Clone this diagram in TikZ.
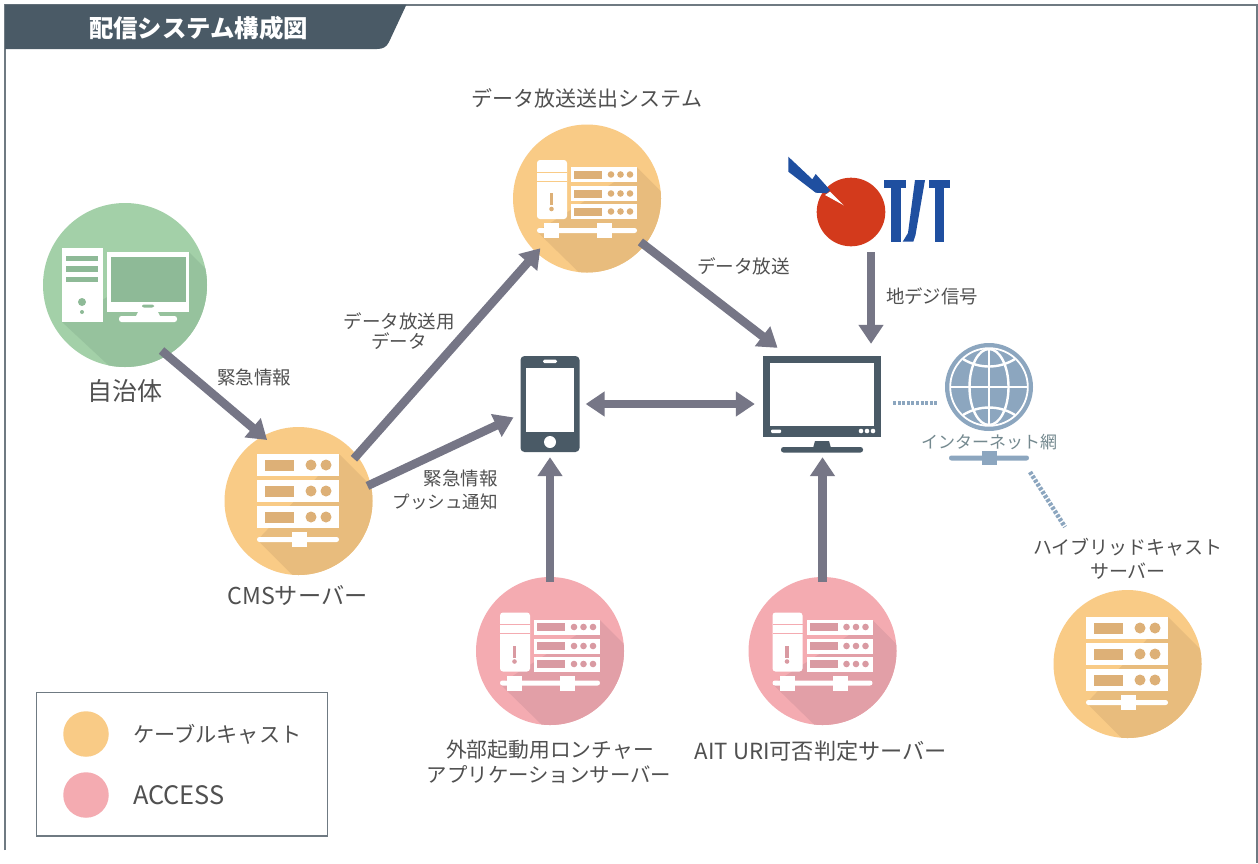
\documentclass[tikz,border=0pt]{standalone}
\usepackage{fontspec}
\setmainfont{Noto Sans CJK JP}
\usetikzlibrary{arrows.meta}
\definecolor{ink}{HTML}{505050}
\definecolor{slate}{HTML}{4A5A66}
\definecolor{framec}{HTML}{6F7A82}
\definecolor{arrowc}{HTML}{767686}
\definecolor{globec}{HTML}{8CA6BF}
\definecolor{globet}{HTML}{74898F}
\definecolor{orangeb}{HTML}{F9CB86}
\definecolor{oranges}{HTML}{E8BC7D}
\definecolor{orangei}{HTML}{DDB077}
\definecolor{pinkb}{HTML}{F4ABB1}
\definecolor{pinks}{HTML}{E29FA7}
\definecolor{pinki}{HTML}{D99AA2}
\definecolor{greenb}{HTML}{A3D0A8}
\definecolor{greens}{HTML}{96C29D}
\definecolor{greeni}{HTML}{8EBA97}
\definecolor{ttblue}{HTML}{1F4FA0}
\definecolor{ttred}{HTML}{D33A1C}
\newcommand{\fs}[1]{\fontsize{#1}{#1}\selectfont}
\tikzset{
  flow/.style={draw=arrowc,line width=8.5pt,-{Triangle[width=24pt,length=19pt]}},
  flowboth/.style={draw=arrowc,line width=8.5pt,{Triangle[width=24pt,length=19pt]}-{Triangle[width=24pt,length=19pt]}},
  netlink/.style={draw=globec,line width=4.5pt,dash pattern=on 3pt off 1.6pt},
  disc/.style={circle,inner sep=0pt,minimum size=148pt},
  lab/.style={text=ink,inner sep=0pt,align=center},
  anchorpt/.style={inner sep=0pt,minimum size=0pt},
}
% rack-only icon: #1 centre, #2 base, #3 shadow, #4 inner
\newcommand{\rackicon}[4]{
\begin{scope}[shift={(#1)}]
  \clip (0,0) circle (74);
  \fill[#3] (40.5,-47) -- (140,52) -- (60,140) -- (-41,39) -- cycle;
\end{scope}
\begin{scope}[shift={(#1)}]
  \foreach \y in {-47,-21,5}{
    \fill[white] (-41.5,\y) rectangle (40.5,\y+22);
    \fill[#4] (-33.5,\y+6) rectangle (-4.5,\y+17);
    \fill[#4] (12.5,\y+11) circle (5.5);
    \fill[#4] (27.5,\y+11) circle (5.5);
  }
  \fill[white,rounded corners=2.4pt] (-41.5,36) rectangle (40.5,41);
  \fill[white] (-7,31) rectangle (8,46);
\end{scope}}
% tower + rack icon
\newcommand{\towericon}[4]{
\begin{scope}[shift={(#1)}]
  \clip (0,0) circle (74);
  \fill[#3] (50,-31) -- (150,69) -- (70,150) -- (-50,33) -- cycle;
\end{scope}
\begin{scope}[shift={(#1)}]
  \fill[white,rounded corners=3pt] (-50,-38.5) rectangle (-20,20.5);
  \fill[#2] (-50,-27) rectangle (-20,-26);
  \fill[#2] (-50,-18) rectangle (-20,-17);
  \fill[#4] (-37.2,-5.5) rectangle (-33.8,6.5);
  \fill[#4] (-35.5,10.5) circle (2.3);
  \foreach \y in {-31.5,-12.5,5.5}{
    \fill[white] (-16,\y) rectangle (50,\y+15);
    \fill[#4] (-13,\y+3.5) rectangle (15,\y+11.5);
    \foreach \x in {24,33.5,43}{\fill[#4] (\x,\y+7.5) circle (3.3);}
  }
  \fill[white,rounded corners=2.4pt] (-50,29.5) rectangle (50,34.5);
  \fill[white] (-43,24.5) rectangle (-28,39.5);
  \fill[white] (10,24.5) rectangle (25,39.5);
\end{scope}}
\begin{document}
\begin{tikzpicture}[x=1pt,y=-1pt,line join=miter]
\useasboundingbox (0,0) rectangle (1258,863);
\fill[white] (0,0) rectangle (1258,863);
% frame and title
\draw[draw=framec,line width=1.5pt] (5,850) -- (5,5) -- (1257,5) -- (1257,863);
\fill[slate] (5,4.5) -- (406.5,4.5) -- (389,42) .. controls (386.5,47) and (383,49) .. (377,49) -- (5,49) -- cycle;
\node[inner sep=0pt,text=white,font={\fs{24.4}\bfseries}] (title) at (198.5,28) {配信システム構成図};

% discs
\node[disc,fill=greenb,minimum size=164pt] (city) at (125,285) {};
\node[disc,fill=orangeb] (cms) at (298.5,501) {};
\node[disc,fill=orangeb] (datasys) at (587,198.5) {};
\node[disc,fill=pinkb] (launcher) at (550,651) {};
\node[disc,fill=pinkb] (ait) at (822.5,651) {};
\node[disc,fill=orangeb] (hybrid) at (1127.5,664) {};

% icons
\begin{scope}[shift={(city.center)}]
  \clip (0,0) circle (82);
  \fill[greens] (64,-33) -- (164,67) -- (80,170) -- (-63,37) -- cycle;
\end{scope}
\begin{scope}[shift={(city.center)}]
  \fill[white] (-63,-37) rectangle (-22,37);
  \foreach \y/\h in {-29/5,-19/6,-8/5}{\fill[greeni] (-59,\y) rectangle (-27,\y+\h);}
  \fill[greeni] (-43,17) circle (4);
  \fill[greeni] (-43,27) circle (2);
  \fill[white] (-18,-33) rectangle (64,27);
  \fill[greeni] (-14,-28) rectangle (61,17);
  \fill[greeni,rounded corners=2pt] (17,19.5) rectangle (29,22.5);
  \fill[white] (13,27) -- (33,27) -- (35,31) -- (11,31) -- cycle;
  \fill[white,rounded corners=2.5pt] (-6,31) rectangle (52,37);
\end{scope}
\rackicon{cms.center}{orangeb}{oranges}{orangei}
\towericon{datasys.center}{orangeb}{oranges}{orangei}
\towericon{launcher.center}{pinkb}{pinks}{pinki}
\towericon{ait.center}{pinkb}{pinks}{pinki}
\rackicon{hybrid.center}{orangeb}{oranges}{orangei}

% phone
\node[inner sep=0pt,minimum width=59pt,minimum height=96pt,fill=slate,rounded corners=4pt] (phone) at (550,404) {};
\fill[white] (526,368) rectangle (574,432);
\fill[white,rounded corners=1.5pt] (543,359.5) rectangle (557,363);
\fill[white] (550,442) circle (6);

% tv
\node[inner sep=0pt,minimum width=118pt,minimum height=81pt,fill=slate] (tv) at (822,396.5) {};
\fill[white] (770,363) rectangle (874,426);
\fill[white,rounded corners=1pt] (771,429.5) rectangle (781,433);
\foreach \x in {861,867,873}{\fill[white] (\x,431) circle (2.3);}
\fill[slate] (815,441) -- (829,441) -- (831,448) -- (813,448) -- cycle;
\fill[slate,rounded corners=2.5pt] (781,447) rectangle (863,452.5);

% globe
\node[circle,inner sep=0pt,minimum size=88pt,fill=globec] (globe) at (989,387) {};
\begin{scope}[shift={(globe.center)}]
  \clip (0,0) circle (38.6);
  \draw[white,line width=2.4pt] (0,0) ellipse (19.5 and 38);
  \draw[white,line width=2.4pt] (0,-38) -- (0,38);
  \draw[white,line width=2.4pt] (-40,0) -- (40,0);
  \draw[white,line width=2.4pt] (-26,-28) .. controls (-10,-18) and (10,-18) .. (26,-28);
  \draw[white,line width=2.4pt] (-26,28) .. controls (-10,18) and (10,18) .. (26,28);
\end{scope}
\draw[white,line width=1.8pt] (globe.center) circle (38.8);
\node[inner sep=0pt,text=globet,font=\fs{17}] (netlabel) at (989,442) {インターネット網};
\fill[globec,rounded corners=2.4pt] (949,455.5) rectangle (1029,460.5);
\node[inner sep=0pt,minimum size=14.5pt,fill=globec] (hub) at (989.5,458) {};

% T/T logo
\fill[ttred] (851,212) circle (34.3);
\fill[ttblue] (788.3,156.7) -- (812.3,179.3) -- (815.7,174) -- (830,190) -- (826.7,193.3) -- (815.7,192.7) -- (788.3,171.7) -- cycle;
\fill[white] (830,191.7) -- (843.8,205.3) -- (825,195) -- cycle;
\fill[ttblue] (884.3,180) rectangle (905.7,188.3);
\fill[ttblue] (891,188) rectangle (900.7,241.7);
\fill[ttblue] (929,180) rectangle (950,188.3);
\fill[ttblue] (935,188) rectangle (944.3,241.7);
\fill[ttblue] (915,180) -- (925,180) -- (915.5,235) -- (913.3,241.7) -- (902.7,241.7) -- (908,233) -- cycle;
\node[anchorpt] (tt) at (871,252) {};

% connectors
\coordinate (tvport) at (893,403);
\coordinate (globeport) at (937,403);
\coordinate (hubport) at (1030,472);
\coordinate (hybridport) at (1065,527);
\draw[flow,shorten <=-7.6pt,shorten >=-6pt] (city.-59.3) -- (cms.119.6);
\draw[flow,shorten <=-4.6pt,shorten >=-6pt] (cms.38.3) -- (datasys.-133.5);
\draw[flow,shorten <=-3.7pt,shorten >=7.5pt] (cms.13.1) -- (phone.-161.8);
\draw[flow,shorten <=-5.4pt,shorten >=13pt] (datasys.-39.4) -- (tv.130.6);
\draw[flow,shorten >=12pt] (tt) -- (tt |- tv.north);
\draw[flowboth,shorten <=6pt,shorten >=8pt] (phone.east) -- (tv.west |- phone.east);
\draw[flow,shorten <=-5pt,shorten >=5pt] (launcher.north) -- (phone.south);
\draw[flow,shorten <=-5pt,shorten >=20pt] (ait.north) -- (ait.north |- tv.south);
\draw[netlink] (tvport) -- (globeport);
\draw[netlink] (hubport) -- (hybridport);

% labels
\node[lab,font=\fs{21}] at (587,98) {データ放送送出システム};
\node[lab,font=\fs{25}] at (125,391) {自治体};
\node[lab,font=\fs{18.5}] at (254,377) {緊急情報};
\node[lab,font=\fs{18.5}] at (399,321) {データ放送用};
\node[lab,font=\fs{18.5}] at (399,341) {データ};
\node[lab,font=\fs{18.5},anchor=east] at (498,478) {緊急情報};
\node[lab,font=\fs{17.5},anchor=east] at (498,502) {プッシュ通知};
\node[lab,font=\fs{18.6}] at (743.5,266) {データ放送};
\node[lab,font=\fs{18.4}] at (932,296) {地デジ信号};
\node[lab,font=\fs{23.2}] at (297.5,596) {CMSサーバー};
\node[lab,font=\fs{20.8}] at (550,750) {外部起動用ロンチャー};
\node[lab,font=\fs{20.4}] at (549,775) {アプリケーションサーバー};
\node[lab,font=\fs{22.2}] at (821,751) {AIT URI可否判定サーバー};
\node[lab,font=\fs{19}] at (1128,547) {ハイブリッドキャスト};
\node[lab,font=\fs{19}] at (1128,571) {サーバー};

% legend
\draw[draw=framec,line width=1.3pt] (36.5,692.5) rectangle (327.5,836);
\node[disc,fill=orangeb,minimum size=45.5pt] (legcable) at (86,734) {};
\node[disc,fill=pinkb,minimum size=45.5pt] (legaccess) at (86,795) {};
\node[lab,font=\fs{21.2},anchor=west] at (133,734) {ケーブルキャスト};
\node[lab,font=\fs{25.4},anchor=west] at (133,795) {ACCESS};
\end{tikzpicture}
\end{document}
